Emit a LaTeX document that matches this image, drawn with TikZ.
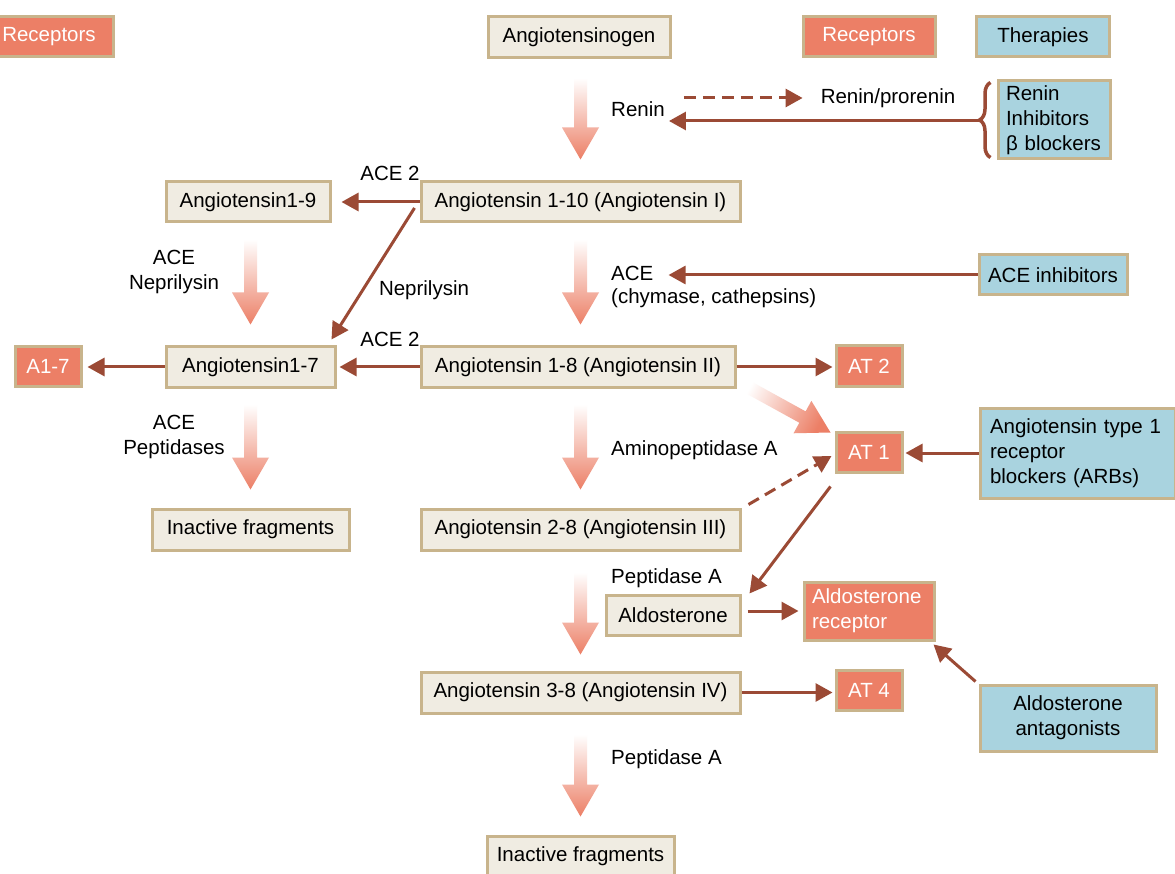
\documentclass[tikz,border=0pt]{standalone}
\usepackage{fontspec}
\setmainfont{Liberation Sans}
\usetikzlibrary{arrows.meta,calc,decorations.pathreplacing}
\definecolor{beige}{HTML}{F0ECE2}
\definecolor{tanb}{HTML}{C8B48C}
\definecolor{salm}{HTML}{EC7F66}
\definecolor{blu}{HTML}{A9D3DF}
\definecolor{brn}{HTML}{9B4A35}
\newcommand\fatarrow[3][0]{%
  \coordinate (fa-s) at (#2);
  \coordinate (fa-e) at (#3);
  \coordinate (fa-h) at ($(fa-e)!32pt!(fa-s)$);
  \shade[top color=white, bottom color=salm, shading angle=#1]
    ($(fa-s)!6.5pt!90:(fa-e)$) -- ($(fa-h)!6.5pt!-90:(fa-s)$) --
    ($(fa-h)!18.5pt!-90:(fa-s)$) -- (fa-e) --
    ($(fa-h)!18.5pt!90:(fa-s)$) -- ($(fa-h)!6.5pt!90:(fa-s)$) --
    ($(fa-s)!6.5pt!-90:(fa-e)$) -- cycle;
}
\tikzset{
  box/.style={draw=tanb, line width=3pt, fill=beige, minimum height=40pt, inner sep=0pt, text=black},
  rec/.style={box, fill=salm, text=white},
  thr/.style={box, fill=blu},
  lbl/.style={inner sep=0pt},
  conn/.style={draw=brn, line width=3pt, -{Triangle[length=17pt,width=18pt]}},
  dconn/.style={conn, dash pattern=on 12pt off 7pt},
}
\begin{document}
\begin{tikzpicture}[x=1pt,y=-1pt,font=\fontsize{20.5pt}{25pt}\selectfont]
\useasboundingbox (0,0) rectangle (1175,874);
\fill[white] (0,0) rectangle (1175,874);
% header boxes
\node[rec, minimum width=128pt] (recL) at (49,37) {Receptors};
\node[box, minimum width=182pt, minimum height=41pt] (ango) at (579,37) {Angiotensinogen};
\node[rec, minimum width=132pt] (recR) at (869,37) {Receptors};
\node[thr, minimum width=133pt] (ther) at (1043,37) {Therapies};
% therapy boxes
\node[thr, minimum width=112pt, minimum height=78pt, text width=96pt, inner xsep=8pt, align=left] (renbox) at (1054,120) {Renin\\Inhibitors\\β blockers};
\node[thr, minimum width=148pt] (acei) at (1053,275) {ACE inhibitors};
\node[thr, minimum width=195pt, minimum height=90pt, text width=175pt, inner xsep=10pt, align=left] (arb) at (1077.5,453) {Angiotensin type 1\\receptor\\blockers (ARBs)};
\node[thr, minimum width=176pt, minimum height=66pt, align=center] (aldant) at (1068,718) {Aldosterone\\antagonists};
% main column
\node[box, minimum width=319pt] (ang10) at (580.5,202) {Angiotensin 1-10 (Angiotensin I)};
\node[box, minimum width=314pt] (ang18) at (578,367) {Angiotensin 1-8 (Angiotensin II)};
\node[box, minimum width=319pt, minimum height=41pt] (ang28) at (580.5,529.5) {Angiotensin 2-8 (Angiotensin III)};
\node[box, minimum width=134pt] (aldo) at (673,615) {Aldosterone};
\node[box, minimum width=319pt, minimum height=41pt] (ang38) at (580.5,692.5) {Angiotensin 3-8 (Angiotensin IV)};
\node[box, minimum width=187pt, minimum height=41pt] (inB) at (580.5,856.5) {Inactive fragments};
% left column
\node[box, minimum width=164pt] (ang19) at (248,202) {Angiotensin1-9};
\node[box, minimum width=169pt] (ang17) at (250.5,367) {Angiotensin1-7};
\node[rec, minimum width=66pt, minimum height=39pt] (a17) at (48,366.5) {A1-7};
\node[box, minimum width=197pt, minimum height=41pt] (inL) at (250.5,529.5) {Inactive fragments};
% receptors
\node[rec, minimum width=66pt] (at2) at (869,366) {AT 2};
\node[rec, minimum width=66pt] (at1) at (869,452) {AT 1};
\node[rec, minimum width=66pt] (at4) at (869,690) {AT 4};
\node[rec, minimum width=130pt, minimum height=58pt, text width=114pt, inner xsep=8pt, align=left] (aldr) at (869,611) {Aldosterone\\receptor};
% labels
\node[lbl] (ren) at (638,109) {Renin};
\node[lbl] (renpro) at (888,98) {Renin/prorenin};
\node[lbl] (ace2a) at (390,173) {ACE 2};
\node[lbl] (nep) at (424,290) {Neprilysin};
\node[lbl, align=center] (acenep) at (174,272) {ACE\\Neprilysin};
\node[lbl, anchor=west] (aceL) at (611,273) {ACE};
\node[lbl, anchor=west] (chym) at (611,298) {(chymase, cathepsins)};
\node[lbl] (ace2b) at (390,339) {ACE 2};
\node[lbl, align=center] (acepep) at (174,437) {ACE\\Peptidases};
\node[lbl, anchor=west] (amino) at (611,450) {Aminopeptidase A};
\node[lbl, anchor=west] (pepa1) at (611,578) {Peptidase A};
\node[lbl, anchor=west] (pepa2) at (611,759) {Peptidase A};
% fat gradient arrows
\fatarrow{$(ang10.north|-ango.south)+(0,19)$}{$(ang10.north)+(0,-21)$}
\fatarrow{$(ang18.north-|ang10.south)+(0,-106)$}{$(ang18.north-|ang10.south)+(0,-21)$}
\fatarrow{$(ang17.north)+(0,-106)$}{$(ang17.north)+(0,-21)$}
\fatarrow{$(inL.north)+(0,-103)$}{$(inL.north)+(0,-18)$}
\fatarrow{$(ang28.north)+(0,-103)$}{$(ang28.north)+(0,-18)$}
\fatarrow{$(ang38.north)+(0,-98)$}{$(ang38.north)+(0,-16)$}
\fatarrow{$(inB.north)+(0,-100)$}{$(inB.north)+(0,-18)$}
\fatarrow[61]{$(ang18.south east)+(5,-5)$}{$(at1.north west)+(-4,2)$}
% brace
\draw[brn, line width=3.5pt, decorate, decoration={brace, amplitude=11pt}]
  ($(renbox.south west)+(-6,-3)$) -- ($(renbox.north west)+(-6,3)$);
\coordinate (bt) at ($(renbox.west)+(-18,1)$);
% connectors
\draw[dconn] ($(ren.east|-renpro.west)+(19,0)$) -- ($(renpro.west)+(-18,0)$);
\draw[conn] (bt) -- ($(ren.east)+(4,12)$);
\draw[conn, shorten >=10pt] (ang10.west) -- (ang19.east);
\draw[conn] ($(ang10.west)+(-5,6)$) -- ($(ang17.north east)+(-5,-6)$);
\draw[conn] (acei.west) -- ($(aceL.east|-acei.west)+(15,0)$);
\draw[conn, shorten >=3pt] (ang18.west) -- (ang17.east);
\draw[conn, shorten >=5pt] (ang17.west) -- (ang17.west-|a17.east);
\draw[conn, shorten >=2pt] (ang18.east) -- (ang18.east-|at2.west);
\draw[conn, shorten >=2pt] (arb.west) -- (arb.west-|at1.east);
\draw[dconn] ($(ang28.north east)+(7,-3)$) -- ($(at1.west)+(-3,4)$);
\draw[conn] ($(at1.south west)+(-4,13)$) -- ($(aldo.north east)+(8,0)$);
\draw[conn] ($(aldo.east)+(6,-4)$) -- ($(aldr.west)+(-4,0)$);
\draw[conn] ($(aldant.north west)+(-3,-2)$) -- ($(aldr.south east)+(-2,3)$);
\draw[conn, shorten >=2pt] (ang38.east) -- (ang38.east-|at4.west);
\end{tikzpicture}
\end{document}
